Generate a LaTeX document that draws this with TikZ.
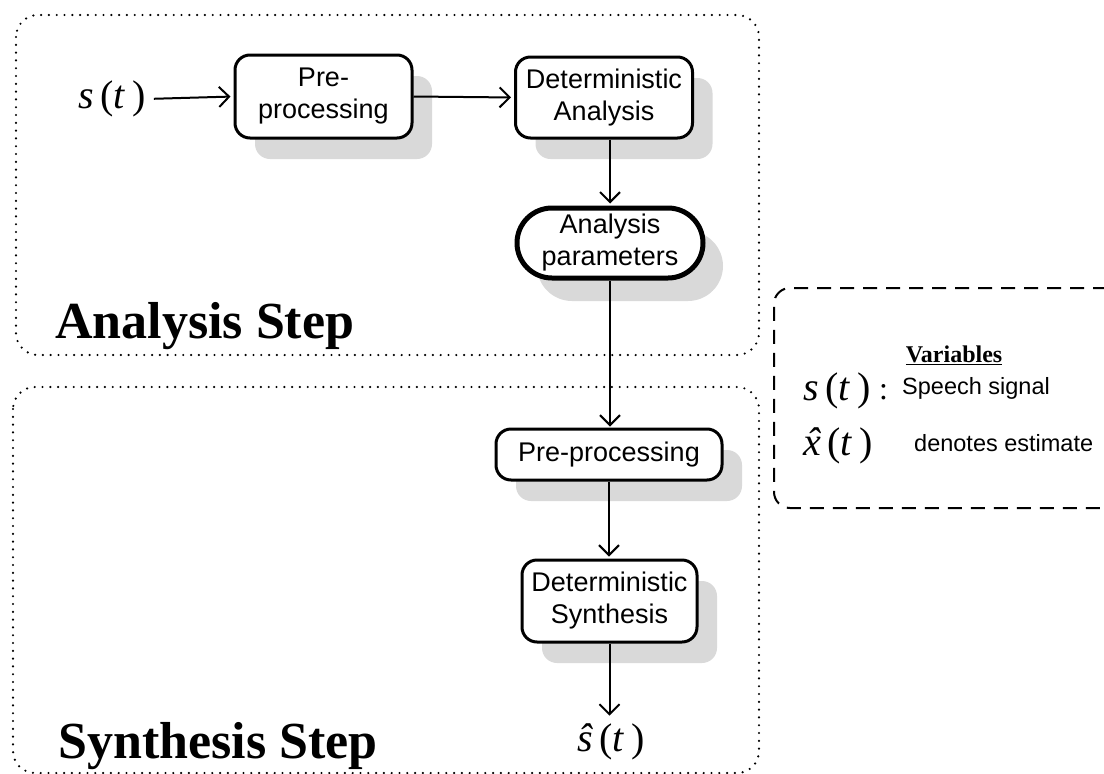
\documentclass[tikz,border=0pt]{standalone}
\usepackage{fontspec}
\setmainfont{Liberation Serif}
\setsansfont{Liberation Sans}
\usetikzlibrary{arrows.meta,shadows,shapes.misc}
\newcommand{\hatx}{\ooalign{\textit{x}\cr\hidewidth\kern0.08em\textit{^^^^02c6}\hidewidth\cr}}
\begin{document}
\begin{tikzpicture}[x=1pt,y=-1pt,
  procbox/.style={draw=black, line width=3pt, rounded corners=15pt, fill=white,
    inner sep=0pt, align=center,
    font=\sffamily\fontsize{27}{32}\selectfont,
    drop shadow={shadow xshift=20pt, shadow yshift=-21pt, fill=black!15, opacity=1}},
  parbox/.style={draw=black, line width=5pt, rounded rectangle, fill=white,
    inner sep=0pt, align=center,
    font=\sffamily\fontsize{27}{32}\selectfont,
    drop shadow={shadow xshift=20pt, shadow yshift=-23pt, fill=black!15, opacity=1}},
  arr/.style={line width=2pt, -{Straight Barb[length=10pt,width=20pt,line width=2pt]}},
  dotbox/.style={line width=2.4pt, dash pattern=on 0pt off 7.8pt, line cap=round, rounded corners=22pt},
  legbox/.style={line width=2pt, dash pattern=on 14pt off 9pt, rounded corners=16pt},
  title/.style={font=\bfseries\fontsize{52}{52}\selectfont, inner sep=0pt},
  mathlbl/.style={font=\fontsize{40}{40}\selectfont, inner sep=0pt},
  legtxt/.style={font=\sffamily\fontsize{23.5}{24}\selectfont, inner sep=0pt, anchor=west}
]
\clip (0,0) rectangle (1104,774);

% region frames
\draw[dotbox] (16,15) rectangle (759,355);
\draw[dotbox] (13,387) rectangle (759,773);
\draw[legbox] (1130,288) -- (774,288) -- (774,508) -- (1130,508);

% titles
\node[title, anchor=base west] (tA) at (55,338) {Analysis Step};
\node[title, anchor=base west] (tS) at (58,758) {Synthesis Step};

% nodes
\node[mathlbl] (sin) at (112,99) {\textit{s}\,(\textit{t}\,)};
\node[procbox, minimum width=177pt, minimum height=83pt] (pre1) at (323.5,96.5) {Pre-\\processing};
\node[procbox, minimum width=177pt, minimum height=81pt] (detA) at (604,97.5) {Deterministic\\Analysis};
\node[parbox, minimum width=186pt, minimum height=70pt] (param) at (610,243) {Analysis\\parameters};
\node[procbox, minimum width=226pt, minimum height=51pt] (pre2) at (609,454.5) {Pre-processing};
\node[procbox, minimum width=175pt, minimum height=82pt] (detS) at (609.5,601) {Deterministic\\Synthesis};
\node[mathlbl] (sout) at (611,742) {\textit{\^s}\,(\textit{t}\,)};

% connectors
\draw[arr, shorten <=8pt, shorten >=3pt] (sin.east) -- (pre1.west);
\draw[arr, shorten >=3pt] (pre1.east) -- (detA.west);
\draw[arr, shorten >=2pt] (param.north |- detA.south) -- (param.north);
\draw[arr, shorten >=1pt] (param.south) -- (param.south |- pre2.north);
\draw[arr, shorten >=2pt] (pre2.south) -- (pre2.south |- detS.north);
\draw[arr, shorten >=8pt] (detS.south) -- (detS.south |- sout.north);

% legend
\node[font=\bfseries\fontsize{24}{24}\selectfont, inner sep=0pt, anchor=base] (vh) at (954,362) {\underline{Variables}};
\node[mathlbl, font=\fontsize{40}{40}\selectfont, anchor=base west] (ls) at (803,400) {\textit{s}\,(\textit{t}\,)};
\node[font=\fontsize{32}{32}\selectfont, inner sep=0pt, anchor=base west] (lc) at (879,399) {:};
\node[legtxt] (lss) at (902,388) {Speech signal};
\node[mathlbl, font=\fontsize{40}{40}\selectfont, anchor=base west] (lx) at (803,455) {\hatx\,(\textit{t}\,)};
\node[legtxt] (lde) at (914,443) {denotes estimate};
\end{tikzpicture}
\end{document}
